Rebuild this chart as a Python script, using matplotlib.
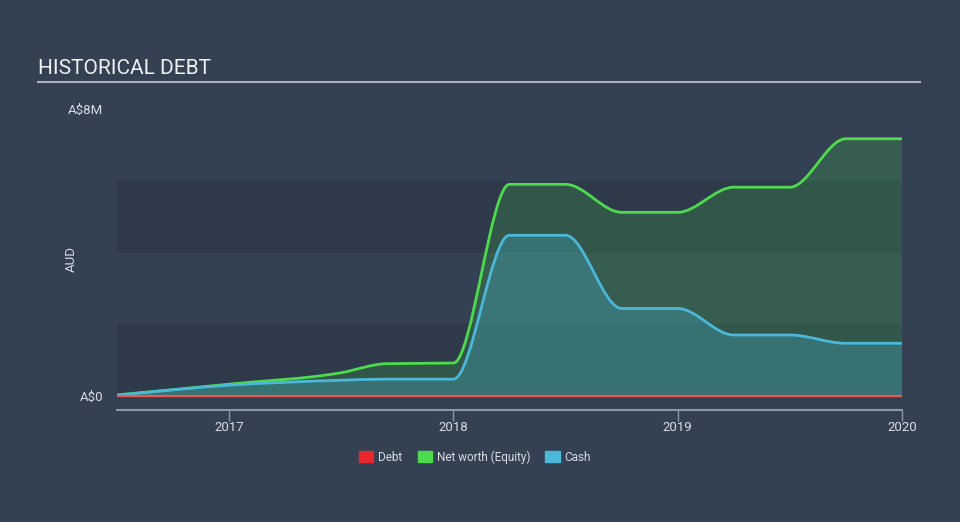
import numpy as np
import matplotlib.pyplot as plt
from matplotlib.path import Path
from matplotlib.patches import PathPatch, Patch

plt.rcParams['font.family'] = ['Roboto', 'DejaVu Sans']

# data (decimal years, values in A$ millions)
dates = [2016.5, 2017.0, 2017.5, 2017.7, 2018.0, 2018.25, 2018.5, 2018.75,
         2019.0, 2019.25, 2019.5, 2019.75, 2020.0]
net_worth = [0.03, 0.33, 0.65, 0.90, 0.92, 5.90, 5.90, 5.12, 5.12, 5.82, 5.82, 7.17, 7.17]
cash = [0.02, 0.30, 0.44, 0.47, 0.47, 4.48, 4.48, 2.44, 2.44, 1.70, 1.70, 1.47, 1.47]
debt = [0.0, 0.0, 0.0, 0.0, 0.0, 0.0, 0.0, 0.0, 0.0, 0.0, 0.0, 0.0, 0.0]
years = [2017, 2018, 2019, 2020]

bg = '#344152'
band = '#2e3a4a'


def monotone_path(x, y, close=False):
    # smooth monotone curve drawn as bezier segments (like d3 curveMonotoneX)
    x = np.asarray(x, float)
    y = np.asarray(y, float)
    h = np.diff(x)
    s = np.diff(y) / h
    m = np.zeros(len(x))
    for i in range(1, len(x) - 1):
        p = (s[i-1] * h[i] + s[i] * h[i-1]) / (h[i-1] + h[i])
        m[i] = (np.sign(s[i-1]) + np.sign(s[i])) * min(abs(s[i-1]), abs(s[i]), 0.5 * abs(p))
    m[0] = (3 * s[0] - m[1]) / 2 if len(x) > 2 else s[0]
    m[-1] = (3 * s[-1] - m[-2]) / 2 if len(x) > 2 else s[-1]
    verts = [(x[0], y[0])]
    codes = [Path.MOVETO]
    for i in range(len(x) - 1):
        d = h[i] / 3
        verts += [(x[i] + d, y[i] + m[i] * d), (x[i+1] - d, y[i+1] - m[i+1] * d), (x[i+1], y[i+1])]
        codes += [Path.CURVE4] * 3
    if close:
        verts += [(x[-1], 0), (x[0], 0), (x[0], y[0])]
        codes += [Path.LINETO, Path.LINETO, Path.CLOSEPOLY]
    return Path(verts, codes)


fig = plt.figure(figsize=(9.6, 5.22), dpi=100, facecolor=bg)
ax = fig.add_axes([117/960, (522-410)/522, (902-117)/960, 301/522])
ax.set_facecolor(bg)

ax.axhspan(0, 2, color=band, lw=0, zorder=0)
ax.axhspan(4, 6, color=band, lw=0, zorder=0)

ax.add_patch(PathPatch(monotone_path(dates, net_worth, True), fc='#45c94a', alpha=0.2, lw=0, zorder=1))
ax.add_patch(PathPatch(monotone_path(dates, cash, True), fc='#4ab8d8', alpha=0.28, lw=0, zorder=2))
ax.add_patch(PathPatch(monotone_path(dates, net_worth), fc='none', ec='#4ddb4d', lw=2, zorder=4))
ax.add_patch(PathPatch(monotone_path(dates, cash), fc='none', ec='#4ab8d8', lw=2, zorder=4))
ax.add_patch(PathPatch(monotone_path(dates, debt), fc='none', ec='#ec5a52', lw=1.6, zorder=5))

ax.set_xlim(2016.5, 2020.0)
ax.set_ylim(-0.39, 8)

for side in ['top', 'right', 'left']:
    ax.spines[side].set_visible(False)
ax.spines['bottom'].set_color('#8d98a5')
ax.spines['bottom'].set_linewidth(1.5)

ax.set_xticks(years)
ax.set_xticklabels([str(y) for y in years])
ax.tick_params(axis='x', colors='#8d98a5', length=8, width=1, pad=0, labelsize=9.5, labelcolor='#d8dde3')
ax.set_yticks([0, 8])
ax.set_yticklabels(['A$0', 'A$8M'])
ax.tick_params(axis='y', length=0, pad=10, labelsize=9.5, labelcolor='#d8dde3')
ax.set_ylabel('AUD', color='#d8dde3', fontsize=9.5)
ax.yaxis.set_label_coords(-0.05, 0.5)

fig.text(38/960, 1 - 69/522, 'HISTORICAL DEBT', color='#eef0f2', fontsize=15, va='center', ha='left')
fig.add_artist(plt.Line2D([38/960, 920/960], [1 - 82/522, 1 - 82/522], color='#a9b1ba', lw=1.5))

handles = [Patch(color='#e8272d', label='Debt'),
           Patch(color='#4ddb4d', label='Net worth (Equity)'),
           Patch(color='#4ab8d8', label='Cash')]
leg = fig.legend(handles=handles, loc='center', bbox_to_anchor=(475/960, 1 - 457/522), ncol=3,
                 frameon=False, fontsize=8.5, handlelength=1.2, handleheight=1.0,
                 handletextpad=0.4, columnspacing=1.3)
for t in leg.get_texts():
    t.set_color('#d8dde3')

plt.savefig('out.png', dpi=100, facecolor=bg)
